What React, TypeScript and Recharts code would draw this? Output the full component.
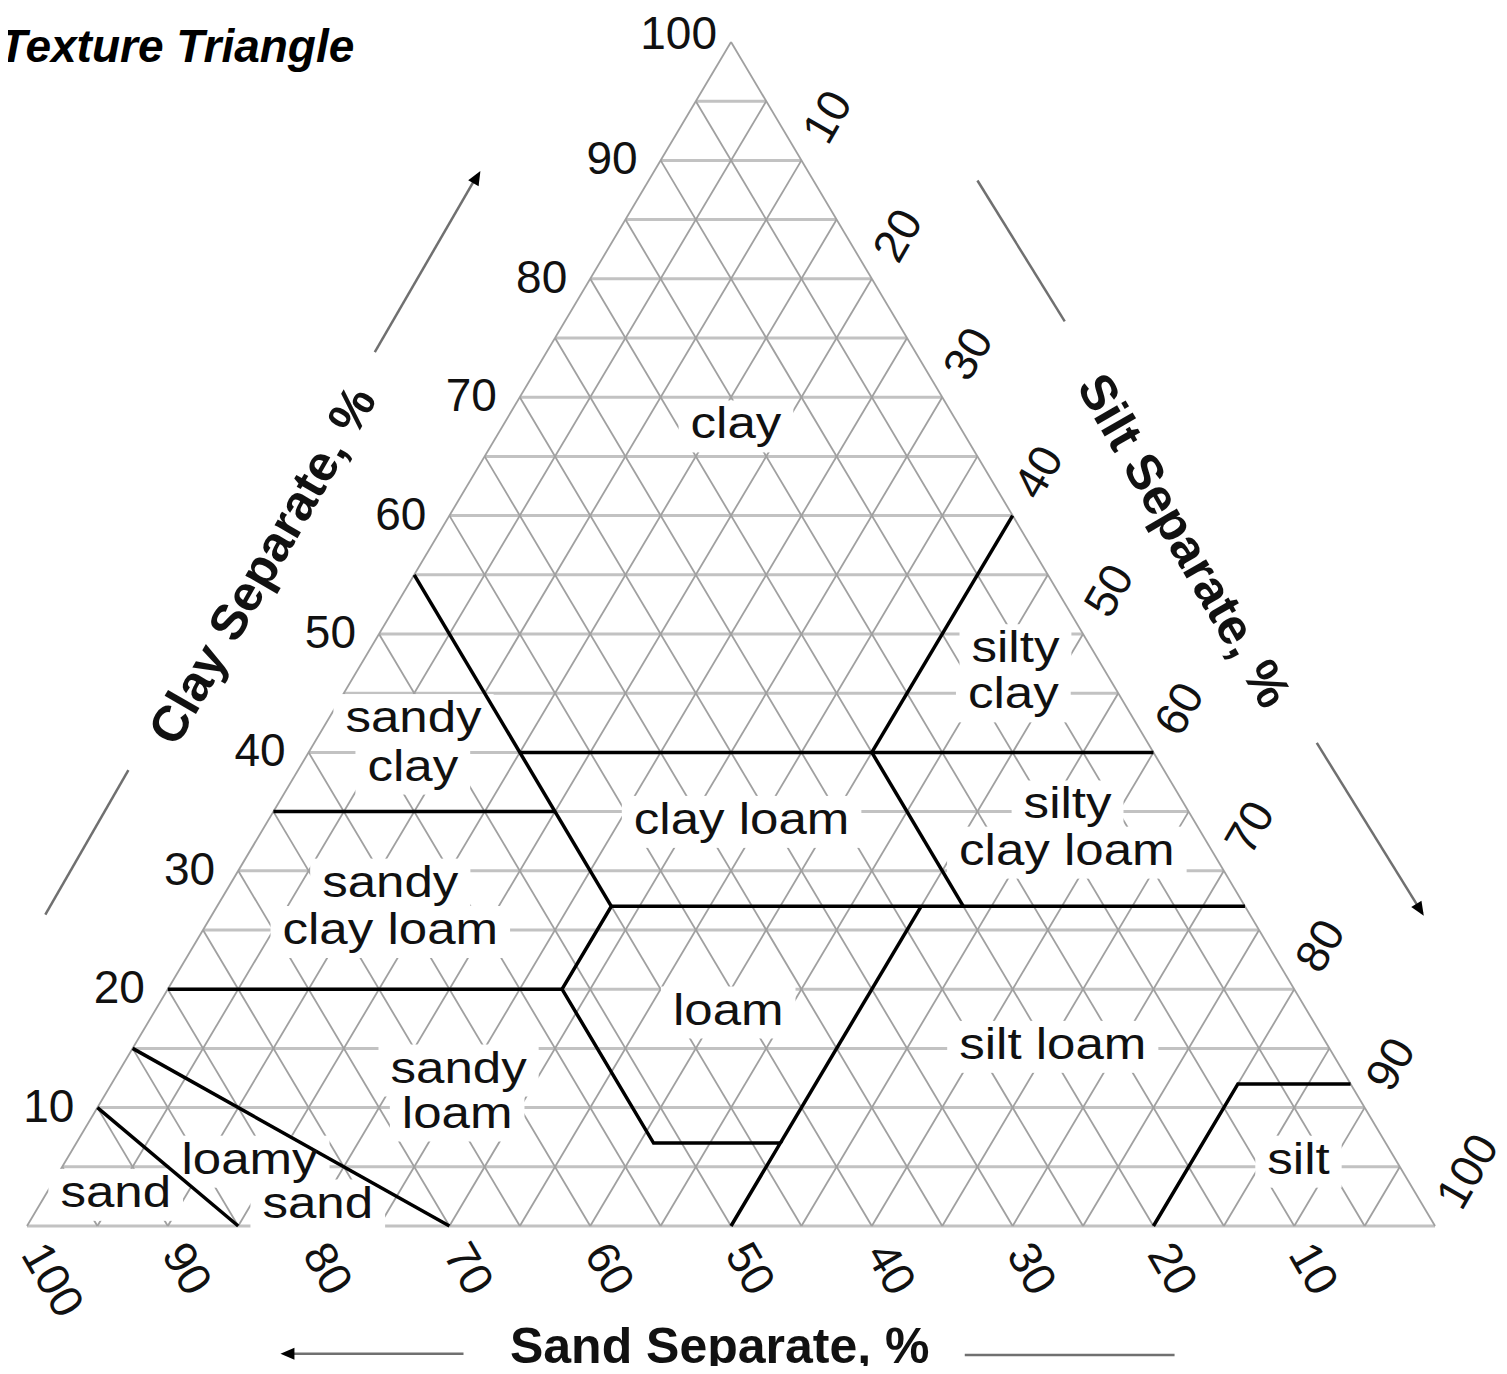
import React from "react";
import { ComposedChart, Line, Scatter, XAxis, YAxis } from "recharts";

// ---------- chart frame (plot units: x = silt + clay/2, y = clay) ----------
const BOX_W = 1491;
const BOX_H = 1358;
const CHART_W = 1499;
const CHART_H = 1366;
const X_DOMAIN: [number, number] = [-1.35, 105.11];
const Y_DOMAIN: [number, number] = [-12.5, 102.87];
const FONT = '"Liberation Sans", Arial, Helvetica, sans-serif';

// ---------- grid / ticks ----------
const GRID_STEPS = [0, 5, 10, 15, 20, 25, 30, 35, 40, 45, 50, 55, 60, 65, 70, 75, 80, 85, 90, 95];
const TICK_VALUES = [10, 20, 30, 40, 50, 60, 70, 80, 90, 100];

// ---------- texture class boundaries, as [clay %, silt %] ----------
const sandBoundary: [number, number][] = [[10, 0], [0, 15]];
const loamySandBoundary: [number, number][] = [[15, 0], [0, 30]];
const sandyLoamBoundary: [number, number][] = [[20, 0], [20, 28], [7, 41], [7, 50], [0, 50]];
const loamSiltLoamBoundary: [number, number][] = [[7, 50], [27, 50]];
const siltBoundary: [number, number][] = [[0, 80], [12, 80], [12, 88]];
const clay27Boundary: [number, number][] = [[20, 28], [27, 28], [27, 73]];
const clay35Boundary: [number, number][] = [[35, 0], [35, 20]];
const sand45Boundary: [number, number][] = [[27, 28], [55, 0]];
const clay40Boundary: [number, number][] = [[40, 15], [40, 60]];
const siltyClayBoundary: [number, number][] = [[40, 40], [60, 40]];
const sand20Boundary: [number, number][] = [[40, 40], [27, 53]];
const BOUNDARIES = [
  sandBoundary, loamySandBoundary, sandyLoamBoundary, loamSiltLoamBoundary, siltBoundary,
  clay27Boundary, clay35Boundary, sand45Boundary, clay40Boundary, siltyClayBoundary, sand20Boundary,
];

// ---------- texture class labels (one entry per text line), clay % / silt % ----------
const textureLabels = [
  { text: "clay", clay: 67.7, silt: 16.5 },
  { text: "silty", clay: 48.8, silt: 45.8 },
  { text: "clay", clay: 44.9, silt: 47.6 },
  { text: "sandy", clay: 42.9, silt: 6.0 },
  { text: "clay", clay: 38.8, silt: 8.0 },
  { text: "clay loam", clay: 34.3, silt: 33.6 },
  { text: "silty", clay: 35.6, silt: 56.1 },
  { text: "clay loam", clay: 31.7, silt: 58.0 },
  { text: "sandy", clay: 29.0, silt: 11.3 },
  { text: "clay loam", clay: 25.0, silt: 13.3 },
  { text: "loam", clay: 18.2, silt: 40.7 },
  { text: "silt loam", clay: 15.3, silt: 65.2 },
  { text: "sandy", clay: 13.3, silt: 24.0 },
  { text: "loam", clay: 9.5, silt: 25.8 },
  { text: "loamy", clay: 5.6, silt: 13.0 },
  { text: "sand", clay: 1.9, silt: 19.7 },
  { text: "sand", clay: 2.8, silt: 4.9 },
  { text: "silt", clay: 5.6, silt: 87.5 },
];

// ---------- axis titles (plot units) ----------
const axisTitles = [
  { text: "Clay Separate, %", x: 16.7, y: 55.8, angle: -60 },
  { text: "Silt Separate, %", x: 82.2, y: 57.9, angle: 60 },
  { text: "Sand Separate, %", x: 49.2, y: -10.15, angle: 0 },
];

// ---------- direction lines beside the axes (plot units) ----------
const clayArrowLine = [{ x: 24.7, y: 73.8 }, { x: 32.0, y: 88.8 }];
const clayPlainLine = [{ x: 1.3, y: 26.3 }, { x: 7.2, y: 38.5 }];
const siltPlainLine = [{ x: 67.5, y: 88.3 }, { x: 73.7, y: 76.4 }];
const siltArrowLine = [{ x: 91.6, y: 40.8 }, { x: 99.1, y: 26.4 }];
const sandArrowLine = [{ x: 31.0, y: -10.8 }, { x: 18.3, y: -10.8 }];
const sandPlainLine = [{ x: 66.6, y: -10.9 }, { x: 81.5, y: -10.9 }];
const DECOR_LINES = [clayArrowLine, clayPlainLine, siltPlainLine, siltArrowLine, sandArrowLine, sandPlainLine];
const arrowHeads = [
  { x: 32.2, y: 89.1, angle: -60 },
  { x: 99.2, y: 26.2, angle: 58 },
  { x: 18.0, y: -10.8, angle: 180 },
];

// ---------- helpers ----------
const tern = (clay: number, silt: number) => ({ x: silt + clay / 2, y: clay });

const horizontalGrid = GRID_STEPS.map((c) => [tern(c, 0), tern(c, 100 - c)]);
const siltGrid = GRID_STEPS.map((s) => [tern(0, s), tern(100 - s, s)]);
const sandGrid = GRID_STEPS.map((a) => [tern(0, 100 - a), tern(100 - a, 0)]);
const boundaryData = BOUNDARIES.map((b) => b.map(([c, s]) => tern(c, s)));
const labelData = textureLabels.map((l) => ({ ...tern(l.clay, l.silt), text: l.text }));
const clayTickData = TICK_VALUES.map((v) => ({ ...tern(v, 0), value: v }));
const siltTickData = TICK_VALUES.map((v) => ({ ...tern(100 - v, v), value: v }));
const sandTickData = TICK_VALUES.map((v) => ({ ...tern(0, 100 - v), value: v }));

const REGION_FONT = 44;
const REGION_SX = 1.16;
const CW: Record<string, number> = {
  a: 0.556, c: 0.5, d: 0.556, e: 0.556, i: 0.222, l: 0.222, m: 0.833,
  n: 0.556, o: 0.556, s: 0.5, t: 0.278, y: 0.5, " ": 0.278,
};
const textWidth = (t: string) => {
  let w = 0;
  for (const ch of t) w += CW[ch] ?? 0.55;
  return w * REGION_FONT * REGION_SX;
};

const RegionBg = (p: any) => {
  if (p.cx == null || !p.payload) return <g />;
  const w = textWidth(p.payload.text);
  return <rect x={p.cx - w / 2 - 12} y={p.cy + 14 - 38} width={w + 24} height={52} fill="#ffffff" />;
};

const RegionText = (p: any) => {
  if (p.cx == null || !p.payload) return <g />;
  return (
    <text
      transform={`translate(${p.cx} ${p.cy}) scale(${REGION_SX} 1)`}
      x={0}
      y={14}
      textAnchor="middle"
      fontFamily={FONT}
      fontSize={REGION_FONT}
      fill="#111"
    >
      {p.payload.text}
    </text>
  );
};

const ClayTick = (p: any) => {
  if (p.cx == null || !p.payload) return <g />;
  const top = p.payload.value === 100;
  return (
    <text x={p.cx + (top ? -14 : -23)} y={p.cy + (top ? 7 : 14)} textAnchor="end" fontFamily={FONT} fontSize={46} fill="#111">
      {p.payload.value}
    </text>
  );
};

const SiltTick = (p: any) => {
  if (p.cx == null || !p.payload) return <g />;
  return (
    <text transform={`translate(${p.cx} ${p.cy}) rotate(-60)`} x={25} y={0} dominantBaseline="central" textAnchor="start" fontFamily={FONT} fontSize={46} fill="#111">
      {p.payload.value}
    </text>
  );
};

const SandTick = (p: any) => {
  if (p.cx == null || !p.payload) return <g />;
  return (
    <text transform={`translate(${p.cx} ${p.cy}) rotate(60)`} x={21} y={4} dominantBaseline="central" textAnchor="start" fontFamily={FONT} fontSize={46} fill="#111">
      {p.payload.value}
    </text>
  );
};

const AxisTitle = (p: any) => {
  if (p.cx == null || !p.payload) return <g />;
  return (
    <text transform={`translate(${p.cx} ${p.cy}) rotate(${p.payload.angle})`} x={0} y={0} dominantBaseline="central" textAnchor="middle" fontFamily={FONT} fontSize={50} fontWeight="bold" fill="#111">
      {p.payload.text}
    </text>
  );
};

const ArrowHead = (p: any) => {
  if (p.cx == null || !p.payload) return <g />;
  return <polygon points="0,0 -14,-6 -14,6" transform={`translate(${p.cx} ${p.cy}) rotate(${p.payload.angle})`} fill="#000" />;
};

export default function App() {
  return (
    <div style={{ position: "relative", width: BOX_W, height: BOX_H }}>
      <div style={{ position: "absolute", left: 0, top: 0, width: CHART_W, height: CHART_H }}>
        <ComposedChart width={CHART_W} height={CHART_H} margin={{ top: 0, right: 0, bottom: 0, left: 0 }}>
          <XAxis type="number" dataKey="x" domain={X_DOMAIN} hide />
          <YAxis type="number" dataKey="y" domain={Y_DOMAIN} hide />

          {horizontalGrid.map((d, i) => (
            <Line key={`h${i}`} data={d} dataKey="y" type="linear" stroke="#c2c2c2" strokeWidth={3} dot={false} activeDot={false} isAnimationActive={false} legendType="none" zIndex={100} />
          ))}
          {siltGrid.map((d, i) => (
            <Line key={`si${i}`} data={d} dataKey="y" type="linear" stroke="#a0a0a0" strokeWidth={1.8} dot={false} activeDot={false} isAnimationActive={false} legendType="none" zIndex={110} />
          ))}
          {sandGrid.map((d, i) => (
            <Line key={`sa${i}`} data={d} dataKey="y" type="linear" stroke="#a0a0a0" strokeWidth={1.8} dot={false} activeDot={false} isAnimationActive={false} legendType="none" zIndex={110} />
          ))}
          {DECOR_LINES.map((d, i) => (
            <Line key={`dec${i}`} data={d} dataKey="y" type="linear" stroke="#707070" strokeWidth={2.5} dot={false} activeDot={false} isAnimationActive={false} legendType="none" zIndex={150} />
          ))}

          <Scatter data={labelData} dataKey="y" shape={RegionBg} isAnimationActive={false} legendType="none" zIndex={200} />

          {boundaryData.map((d, i) => (
            <Line key={`b${i}`} data={d} dataKey="y" type="linear" stroke="#000" strokeWidth={3.5} dot={false} activeDot={false} isAnimationActive={false} legendType="none" zIndex={300} />
          ))}

          <Scatter data={labelData} dataKey="y" shape={RegionText} isAnimationActive={false} legendType="none" zIndex={600} />
          <Scatter data={clayTickData} dataKey="y" shape={ClayTick} isAnimationActive={false} legendType="none" zIndex={600} />
          <Scatter data={siltTickData} dataKey="y" shape={SiltTick} isAnimationActive={false} legendType="none" zIndex={600} />
          <Scatter data={sandTickData} dataKey="y" shape={SandTick} isAnimationActive={false} legendType="none" zIndex={600} />
          <Scatter data={axisTitles} dataKey="y" shape={AxisTitle} isAnimationActive={false} legendType="none" zIndex={600} />
          <Scatter data={arrowHeads} dataKey="y" shape={ArrowHead} isAnimationActive={false} legendType="none" zIndex={600} />
        </ComposedChart>
      </div>
      <div
        style={{
          position: "absolute",
          left: -9,
          top: 15,
          fontFamily: FONT,
          fontSize: 46,
          lineHeight: 1,
          fontWeight: "bold",
          fontStyle: "italic",
          whiteSpace: "nowrap",
          color: "#000",
        }}
      >
        Texture Triangle
      </div>
    </div>
  );
}
